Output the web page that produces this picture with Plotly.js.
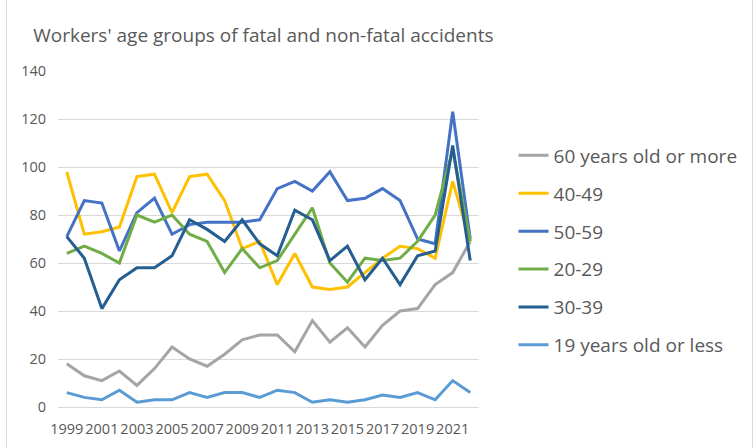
<!DOCTYPE html>
<html>
<head>
<meta charset="utf-8">
<script src="https://cdn.plot.ly/plotly-3.0.1.min.js"></script>
<style>
  body { margin: 0; background: #fff; }
  #wrap { position: relative; width: 755px; height: 448px; overflow: hidden; }
  #chart { position: absolute; left: 0; top: 0; width: 755px; height: 448px; }
  #frame { position: absolute; left: 6px; top: -2px; width: 745px; height: 452px; border-left: 1px solid #d9d9d9; border-right: 1px solid #d9d9d9; pointer-events: none; }
</style>
</head>
<body>
<div id="wrap"><div id="chart"></div><div id="frame"></div></div>
<script>
const years = [1999,2000,2001,2002,2003,2004,2005,2006,2007,2008,2009,2010,2011,2012,2013,2014,2015,2016,2017,2018,2019,2020,2021,2022];
const tickYears = [1999,2001,2003,2005,2007,2009,2011,2013,2015,2017,2019,2021];

const age60plus = [18,13,11,15,9,16,25,20,17,22,28,30,30,23,36,27,33,25,34,40,41,51,56,69];
const age40_49  = [98,72,73,75,96,97,81,96,97,86,66,69,51,64,50,49,50,56,62,67,66,62,94,69];
const age50_59  = [71,86,85,65,81,87,72,76,77,77,77,78,91,94,90,98,86,87,91,86,70,68,123,70];
const age20_29  = [64,67,64,60,80,77,80,72,69,56,66,58,61,72,83,60,52,62,61,62,69,80,107,69];
const age30_39  = [71,62,41,53,58,58,63,78,74,69,78,68,63,82,78,61,67,53,62,51,63,65,109,61];
const age19less = [6,4,3,7,2,3,3,6,4,6,6,4,7,6,2,3,2,3,5,4,6,3,11,6];

const seriesNames = ['60 years old or more','40-49','50-59','20-29','30-39','19 years old or less'];
const seriesData = [age60plus, age40_49, age50_59, age20_29, age30_39, age19less];
const seriesColors = ['#a5a5a5','#ffc000','#4472c4','#70ad47','#255e91','#5b9bd5'];

const traces = seriesNames.map((n, i) => ({
  type: 'scatter', mode: 'lines', name: n,
  x: years, y: seriesData[i],
  line: { color: seriesColors[i], width: 3 },
  legendgroup: 'g' + i,
  hoverinfo: 'skip'
}));

const font = '"Open Sans", "Liberation Sans", Arial, sans-serif';

const layout = {
  width: 755, height: 448,
  margin: { l: 58, r: 273, t: 71, b: 41 },
  paper_bgcolor: '#ffffff', plot_bgcolor: '#ffffff',
  font: { family: font, color: '#595959', size: 14 },
  title: {
    text: "Workers' age groups of fatal and non-fatal accidents",
    font: { family: font, size: 19, color: '#595959' },
    x: 0.044, xanchor: 'left', xref: 'container',
    y: 0.922, yanchor: 'middle', yref: 'container'
  },
  xaxis: {
    range: [1998.5, 2022.5],
    tickmode: 'array', tickvals: tickYears, ticktext: tickYears.map(String),
    tickangle: 0, showgrid: false, zeroline: false,
    showline: false, ticks: '', ticklabelstandoff: 11,
    tickfont: { size: 14.5, color: '#595959', family: font }
  },
  yaxis: {
    range: [0, 140], dtick: 20, showgrid: true, gridcolor: '#d9d9d9', gridwidth: 1,
    zeroline: true, zerolinecolor: '#d9d9d9', zerolinewidth: 1,
    showline: false, ticks: '', ticklabelstandoff: 11,
    tickfont: { size: 14.5, color: '#595959', family: font }
  },
  showlegend: true,
  legend: {
    x: 1.082, xanchor: 'left', y: 0.805, yanchor: 'top',
    font: { size: 19, color: '#595959', family: font },
    tracegroupgap: 10.2, traceorder: 'grouped',
    bgcolor: 'rgba(0,0,0,0)'
  }
};

Plotly.newPlot('chart', traces, layout, { staticPlot: true, displayModeBar: false });
</script>
</body>
</html>
